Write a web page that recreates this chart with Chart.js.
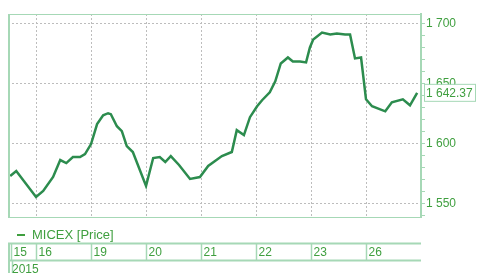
<!DOCTYPE html>
<html>
<head>
<meta charset="utf-8">
<script src="https://cdn.jsdelivr.net/npm/chart.js@4"></script>
<style>
  html, body { margin: 0; padding: 0; background: #fff; }
  canvas { display: block; }
</style>
</head>
<body>
<canvas id="micexChart" width="477" height="273"></canvas>
<script>
// session position (0 = start of the 16th, 1 = 19th, ...) and index level
const sessionTime = [-0.47, -0.36, 0, 0.13, 0.31, 0.44, 0.55, 0.67, 0.8, 0.89, 1.0, 1.11, 1.22, 1.31, 1.36,
    1.47, 1.56, 1.65, 1.76, 2.0, 2.13, 2.25, 2.35, 2.45, 2.6, 2.8, 2.98, 3.13, 3.38, 3.56, 3.65, 3.78,
    3.89, 4.02, 4.11, 4.25, 4.35, 4.45, 4.58, 4.67, 4.8, 4.91, 4.98, 5.04, 5.2, 5.35, 5.47, 5.62, 5.71,
    5.8, 5.91, 6.0, 6.11, 6.35, 6.47, 6.67, 6.8, 6.93]
const micexPrice = [1573.2, 1577.3, 1555.7, 1560.7, 1572.3, 1586.4, 1583.9, 1588.9, 1588.9, 1591.4, 1599.7, 1616.3,
    1623.7, 1625.4, 1624.6, 1614.6, 1610.5, 1598.0, 1593.1, 1564.9, 1588.1, 1588.9, 1584.8, 1589.7, 1582.3,
    1570.7, 1572.3, 1581.5, 1589.7, 1593.1, 1611.3, 1607.2, 1622.1, 1631.2, 1636.2, 1642.8, 1651.9, 1666.8,
    1671.8, 1668.5, 1668.5, 1667.7, 1680.1, 1686.7, 1692.5, 1690.9, 1691.7, 1690.9, 1690.9, 1671.0, 1671.8,
    1637.0, 1631.2, 1627.0, 1634.5, 1637.0, 1632.0, 1642.37]
const dayLabels = ['15', '16', '19', '20', '21', '22', '23', '26']
const yearLabel = '2015'
const lastPrice = 1642.37

const lineGreen = '#2c8c4e'
const textGreen = '#3f9f3f'
const paleGreen = '#a6d8b6'
const gridGrey = '#bdbdbd'
const font = 'Arial, "Liberation Sans", sans-serif'

function formatLevel(value, decimals) {
    const parts = value.toFixed(decimals).split('.')
    parts[0] = parts[0].replace(/\B(?=(\d{3})+(?!\d))/g, ' ')
    return parts.join('.')
}

const decorations = {
    id: 'decorations',
    afterDraw(chart) {
        const ctx = chart.ctx
        const area = chart.chartArea
        const x = chart.scales.x
        const y = chart.scales.y
        ctx.save()
        // frame of the plot
        ctx.strokeStyle = paleGreen
        ctx.lineWidth = 1
        ctx.beginPath()
        ctx.moveTo(area.left, area.top + 0.5)
        ctx.lineTo(area.right, area.top + 0.5)
        ctx.moveTo(area.left, area.bottom + 0.5)
        ctx.lineTo(area.right, area.bottom + 0.5)
        ctx.stroke()
        ctx.lineWidth = 2
        ctx.beginPath()
        ctx.moveTo(area.left + 1, area.top)
        ctx.lineTo(area.left + 1, area.bottom)
        ctx.stroke()

        // last value box
        const py = y.getPixelForValue(lastPrice)
        ctx.fillStyle = '#fff'
        ctx.fillRect(area.right + 3, py - 8, 52, 17)
        ctx.lineWidth = 1
        ctx.strokeRect(area.right + 3.5, py - 8.5, 51, 17)
        ctx.fillStyle = textGreen
        ctx.font = '12px ' + font
        ctx.textBaseline = 'middle'
        ctx.textAlign = 'left'
        ctx.fillText(formatLevel(lastPrice, 2), area.right + 5, py + 1)

        // legend
        ctx.strokeStyle = textGreen
        ctx.lineWidth = 2
        ctx.beginPath()
        ctx.moveTo(17, 235)
        ctx.lineTo(25, 235)
        ctx.stroke()
        ctx.font = '13px ' + font
        ctx.fillText(chart.data.datasets[0].label, 32, 235)

        // date strip
        const top = 243.5, bottom = 260.5
        ctx.strokeStyle = paleGreen
        ctx.lineWidth = 2
        ctx.beginPath()
        ctx.moveTo(area.left, top)
        ctx.lineTo(area.right, top)
        ctx.moveTo(area.left, bottom)
        ctx.lineTo(area.right, bottom)
        ctx.moveTo(area.left + 1, top)
        ctx.lineTo(area.left + 1, chart.height)
        ctx.stroke()
        ctx.lineWidth = 1.5
        ctx.font = '12px ' + font
        dayLabels.forEach((label, i) => {
            let px = x.getPixelForValue(i - 1)
            if (px < area.left) px = area.left + 3
            ctx.beginPath()
            ctx.moveTo(Math.round(px) + 0.5, top)
            ctx.lineTo(Math.round(px) + 0.5, bottom)
            ctx.stroke()
            ctx.fillText(label, px + 2.5, 253)
        })
        ctx.beginPath()
        ctx.moveTo(area.left + 4.5, bottom)
        ctx.lineTo(area.left + 4.5, chart.height)
        ctx.stroke()
        ctx.textBaseline = 'top'
        ctx.fillText(yearLabel, area.left + 4, 264)
        ctx.restore()
    }
}

new Chart(document.getElementById('micexChart'), {
    type: 'line',
    data: {
        datasets: [{
            label: 'MICEX [Price]',
            data: sessionTime.map((t, i) => ({ x: t, y: micexPrice[i] })),
            borderColor: lineGreen,
            borderWidth: 2.5,
            pointRadius: 0,
            tension: 0,
            fill: false,
        }],
    },
    options: {
        responsive: false,
        devicePixelRatio: 1,
        animation: false,
        layout: { padding: { left: 8, top: 14, right: 0, bottom: 56 } },
        plugins: {
            legend: { display: false },
            tooltip: { enabled: false },
        },
        scales: {
            x: {
                type: 'linear',
                min: -0.51,
                max: 7.0,
                afterBuildTicks: (scale) => {
                    scale.ticks = [0, 1, 2, 3, 4, 5, 6].map((v) => ({ value: v }))
                },
                afterFit: (scale) => { scale.height = 0 },
                ticks: { display: false, autoSkip: false },
                border: { display: false, dash: [2, 2] },
                grid: {
                    color: gridGrey,
                    drawTicks: false,
                },
            },
            y: {
                position: 'right',
                min: 1539,
                max: 1708,
                afterBuildTicks: (scale) => {
                    const ticks = []
                    for (let v = 1540; v <= 1700; v += 10) ticks.push({ value: v })
                    scale.ticks = ticks
                },
                afterFit: (scale) => { scale.width = 56 },
                border: { display: true, color: paleGreen, width: 2, dash: [2, 2] },
                grid: {
                    color: (c) => (c.tick && c.tick.value % 50 === 0 ? gridGrey : 'rgba(0,0,0,0)'),
                    tickColor: paleGreen,
                    tickLength: 4,
                    tickBorderDash: [],
                },
                ticks: {
                    color: textGreen,
                    padding: 1,
                    autoSkip: false,
                    font: { family: font, size: 12 },
                    callback: (value) => (value % 50 === 0 ? formatLevel(value, 0) : ''),
                },
            },
        },
    },
    plugins: [decorations],
})
</script>
</body>
</html>
